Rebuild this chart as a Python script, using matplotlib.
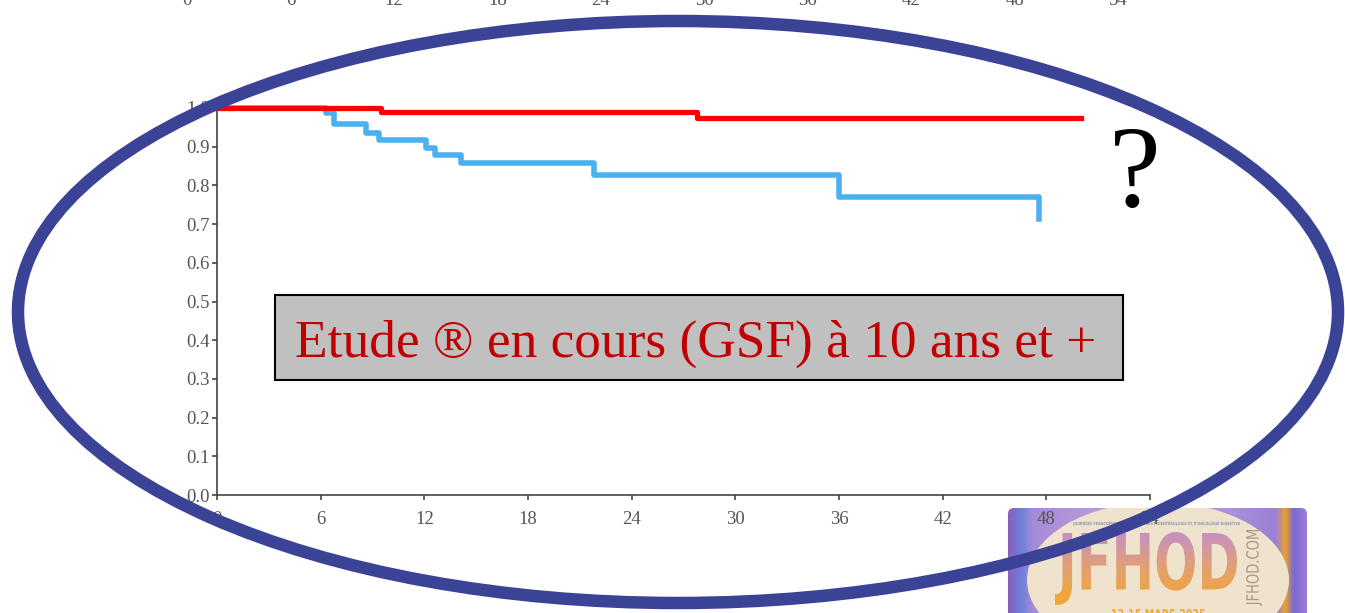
import numpy as np
import matplotlib
matplotlib.use("Agg")
import matplotlib.pyplot as plt
from matplotlib.patches import Ellipse, FancyBboxPatch, Rectangle, PathPatch
from matplotlib.textpath import TextPath
from matplotlib.font_manager import FontProperties
from matplotlib.transforms import Affine2D
from matplotlib.colors import LinearSegmentedColormap

# ---- survival data (months, cumulative survival) ----
red_times = [0, 9.5, 27.8, 50.0]
red_surv = [1.0, 0.990, 0.975, 0.975]

blue_times = [0, 6.3, 6.8, 8.6, 9.4, 12.1, 12.6, 14.1, 21.8, 36.0, 47.6]
blue_surv = [1.0, 0.987, 0.958, 0.935, 0.917, 0.897, 0.878, 0.857, 0.827, 0.770, 0.713]

x_ticks = [0, 6, 12, 18, 24, 30, 36, 42, 48, 54]
y_ticks = [0.0, 0.1, 0.2, 0.3, 0.4, 0.5, 0.6, 0.7, 0.8, 0.9, 1.0]
y_tick_labels = ["0.0", "0.1", "0.2", "0.3", "0.4", "0.5", "0.6", "0.7", "0.8", "0.9", "1.0"]

banner_text = "Etude ® en cours (GSF) à 10 ans et +"

W, H = 1345, 613
plt.rcParams["font.family"] = ["Liberation Serif", "DejaVu Serif"]
fig = plt.figure(figsize=(W / 100, H / 100), dpi=100)
fig.patch.set_facecolor("white")


def fx(px):
    return px / W


def fy(py):
    return 1 - py / H


TICK_GRAY = "#555555"

# ---- main survival plot ----
ax = fig.add_axes([fx(217), fy(495), fx(1150) - fx(217), fy(108) - fy(495)])
ax.step(blue_times, blue_surv, where="post", color="#4ab0f0", lw=4.0,
        clip_on=False, zorder=3)
ax.step(red_times, red_surv, where="post", color="#ff0000", lw=3.8,
        clip_on=False, zorder=4)
ax.set_xlim(0, 54)
ax.set_ylim(0, 1.0)
ax.set_xticks(x_ticks)
ax.set_xticklabels([str(t) for t in x_ticks])
ax.set_yticks(y_ticks)
ax.set_yticklabels(y_tick_labels)
for side in ("top", "right"):
    ax.spines[side].set_visible(False)
for side in ("left", "bottom"):
    ax.spines[side].set_color("#444444")
    ax.spines[side].set_linewidth(1.2)
ax.tick_params(axis="both", direction="out", length=3.5, width=1.2,
               color="#444444", labelcolor=TICK_GRAY, labelsize=13.5)
ax.tick_params(axis="y", pad=1.5)
ax.tick_params(axis="x", pad=8)

# axis labels of the preceding panel, cut at the top edge
for t in x_ticks:
    fig.text(fx(187 + t * 17.24), fy(5), str(t), ha="center", va="baseline",
             fontsize=13.5, color=TICK_GRAY)

# ---- banner ----
fig.add_artist(Rectangle((fx(275), fy(380)), fx(1123) - fx(275), fy(295) - fy(380),
                         transform=fig.transFigure, fc="#c0c0c0", ec="black",
                         lw=1.5, zorder=5))
fig.text(fx(696), fy(357), banner_text, ha="center", va="baseline",
         fontsize=38.4, color="#c00000", zorder=6)

# question mark
fig.text(fx(1135), fy(206), "?", ha="center", va="baseline", fontsize=84,
         color="black", zorder=6)

# ---- congress logo ----
lax = fig.add_axes([fx(1008), 0, fx(299), (H - 508) / H], zorder=-1)
lax.set_axis_off()


def fit_path(s, box, prop, rotate=False):
    tp = TextPath((0, 0), s, size=100, prop=prop)
    if rotate:
        tp = tp.transformed(Affine2D().rotate_deg(90))
    e = tp.get_extents()
    x0, x1, ytop, ybot = box
    Y0, Y1 = H - ybot, H - ytop
    tr = (Affine2D().translate(-e.x0, -e.y0)
          .scale((x1 - x0) / e.width, (Y1 - Y0) / e.height)
          .translate(x0, Y0))
    return tp.transformed(tr)


frame = FancyBboxPatch((1008, H - 640), 299, 640 - 508,
                       boxstyle="round,pad=0,rounding_size=6",
                       fc="none", ec="none")
lax.add_patch(frame)
bg_cmap = LinearSegmentedColormap.from_list(
    "bg", [(0.0, "#8a5fc0"), (0.04, "#6d7fd8"), (0.08, "#a58bd8"),
           (0.5, "#c7a9d8"), (0.9, "#9a80d8"), (0.93, "#e8a030"),
           (0.96, "#7a6ad0"), (1.0, "#9a7ad8")])
bg = np.tile(np.linspace(0, 1, 300), (40, 1))
im = lax.imshow(bg, extent=(1008, 1307, 0, H - 508), cmap=bg_cmap,
                aspect="auto", origin="lower", zorder=0)
im.set_clip_path(frame)

lax.add_patch(Ellipse((1158, H - 580), 262, 156, fc="#efe3cd", ec="none", zorder=1))

cond = FontProperties(family="DejaVu Sans", weight="bold")
jf = PathPatch(fit_path("JFHOD", (1055, 1237, 532, 605), cond),
               fc="none", ec="none", zorder=2)
lax.add_patch(jf)
txt_cmap = LinearSegmentedColormap.from_list(
    "txt", ["#f3a92c", "#e3a070", "#c690c4"])
grad = np.linspace(0, 1, 80).reshape(-1, 1)
jim = lax.imshow(grad, extent=(1055, 1237, H - 605, H - 532), cmap=txt_cmap,
                 aspect="auto", origin="lower", zorder=2)
jim.set_clip_path(jf)

lax.add_patch(PathPatch(fit_path("JFHOD.COM", (1246, 1262, 530, 606),
                                 FontProperties(family="DejaVu Sans"), rotate=True),
                        fc="#a89a88", ec="none", zorder=3))
lax.add_patch(PathPatch(fit_path("JOURNÉES FRANCOPHONES D'HÉPATO-GASTROENTÉROLOGIE ET D'ONCOLOGIE DIGESTIVE",
                                 (1073, 1240, 521, 526),
                                 FontProperties(family="DejaVu Sans", weight="bold")),
                        fc="#8f9ab8", ec="none", zorder=3))
lax.add_patch(PathPatch(fit_path("12-15 MARS 2025", (1112, 1205, 609, 619),
                                 FontProperties(family="DejaVu Sans", weight="bold")),
                        fc="#f0a830", ec="none", zorder=3))
lax.set_xlim(1008, 1307)
lax.set_ylim(0, H - 508)

# ---- outline ellipse ----
fig.add_artist(Ellipse((fx(678), fy(312)), 1320 / W, 582 / H,
                       transform=fig.transFigure, fill=False, ec="#3b4397",
                       lw=9.0, zorder=20))

fig.savefig("out.png", dpi=100)
